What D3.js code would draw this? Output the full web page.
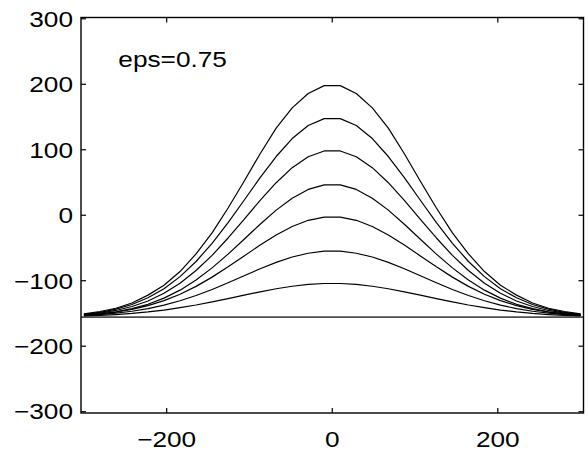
<!DOCTYPE html>
<html>
<head>
<meta charset="utf-8">
<script src="https://cdn.jsdelivr.net/npm/d3@7/dist/d3.min.js"></script>
<style>
  html, body { margin: 0; padding: 0; background: #fff; }
  svg { display: block; }
  text { font-family: "Liberation Sans", Arial, Helvetica, sans-serif; fill: #000; }
</style>
</head>
<body>
<svg id="chart" width="588" height="454"></svg>
<script>
// ---- data ----
const xValues = [-300, -280.65, -261.29, -241.94, -222.58, -203.23, -183.87, -164.52, -145.16, -125.81, -106.45, -87.10, -67.74, -48.39, -29.03, -9.68,
                 9.68, 29.03, 48.39, 67.74, 87.10, 106.45, 125.81, 145.16, 164.52, 183.87, 203.23, 222.58, 241.94, 261.29, 280.65, 300];

const curve1 = [-150.5, -147, -142, -134, -122, -107, -86, -59, -27, 11, 52, 94, 133, 164, 186, 198,
                198, 186, 164, 133, 94, 52, 11, -27, -59, -86, -107, -122, -134, -142, -147, -150.5];
const curve2 = [-151.2, -148.2, -143.4, -136.3, -126.1, -112.1, -93.7, -70.6, -42.8, -11.2, 22.9, 57.4, 89.7, 117.1, 137.1, 147.6,
                147.6, 137.1, 117.1, 89.7, 57.4, 22.9, -11.2, -42.8, -70.6, -93.7, -112.1, -126.1, -136.3, -143.4, -148.2, -151.2];
const curve3 = [-151.9, -149.4, -145.4, -139.4, -130.9, -119.2, -103.8, -84.4, -61.2, -34.7, -6.2, 22.7, 49.7, 72.7, 89.4, 98.2,
                98.2, 89.4, 72.7, 49.7, 22.7, -6.2, -34.7, -61.2, -84.4, -103.8, -119.2, -130.9, -139.4, -145.4, -149.4, -151.9];
const curve4 = [-152.7, -150.6, -147.5, -142.7, -136.0, -126.6, -114.4, -98.9, -80.4, -59.4, -36.7, -13.7, 7.8, 26.1, 39.4, 46.4,
                46.4, 39.4, 26.1, 7.8, -13.7, -36.7, -59.4, -80.4, -98.9, -114.4, -126.6, -136.0, -142.7, -147.5, -150.6, -152.7];
const curve5 = [-152.6, -150.7, -147.8, -143.7, -138.0, -130.3, -120.6, -108.6, -94.5, -78.8, -62.1, -45.5, -30.1, -17.1, -7.7, -2.8,
                -2.8, -7.7, -17.1, -30.1, -45.5, -62.1, -78.8, -94.5, -108.6, -120.6, -130.3, -138.0, -143.7, -147.8, -150.7, -152.6];
const curve6 = [-153.1, -151.7, -149.6, -146.6, -142.5, -137.3, -130.6, -122.6, -113.3, -103.0, -92.3, -81.7, -72.0, -63.8, -58.0, -54.9,
                -54.9, -58.0, -63.8, -72.0, -81.7, -92.3, -103.0, -113.3, -122.6, -130.6, -137.3, -142.5, -146.6, -149.6, -151.7, -153.1];
const curve7 = [-153.9, -153.0, -151.7, -150.0, -147.7, -144.8, -141.2, -137.1, -132.3, -127.2, -122.0, -116.9, -112.2, -108.4, -105.6, -104.2,
                -104.2, -105.6, -108.4, -112.2, -116.9, -122.0, -127.2, -132.3, -137.1, -141.2, -144.8, -147.7, -150.0, -151.7, -153.0, -153.9];
const baselineValue = -155.6;
const baselineX = [-303.5, 303.5];

const curves = [curve1, curve2, curve3, curve4, curve5, curve6, curve7];
const xTicks = [-200, 0, 200];
const yTicks = [-300, -200, -100, 0, 100, 200, 300];
const annotation = "eps=0.75";

// ---- layout ----
const svg = d3.select("#chart");
const mLeft = 81, mRight = 583.5, mTop = 17.5, mBottom = 413;
const x = d3.scaleLinear().domain([-303.5, 303.5]).range([mLeft, mRight]);
const y = d3.scaleLinear().domain([-302, 302]).range([mBottom, mTop]);
const FS = 21.5, SX = 1.22;

const line = d3.line().x((d, i) => x(xValues[i])).y(d => y(d));

// baseline
svg.append("line")
  .attr("x1", x(baselineX[0])).attr("x2", x(baselineX[1]))
  .attr("y1", y(baselineValue)).attr("y2", y(baselineValue))
  .attr("stroke", "#4d4d4d").attr("stroke-width", 1.6);

// curves
svg.append("g").selectAll("path").data(curves).join("path")
  .attr("d", d => line(d))
  .attr("fill", "none").attr("stroke", "#000").attr("stroke-width", 1.2)
  .attr("stroke-linejoin", "round");

// box
svg.append("rect")
  .attr("x", mLeft).attr("y", mTop).attr("width", mRight - mLeft).attr("height", mBottom - mTop)
  .attr("fill", "none").attr("stroke", "#000").attr("stroke-width", 1.4);

// ticks (inside, all four sides)
const tl = 5;
const tg = svg.append("g").attr("stroke", "#000").attr("stroke-width", 1.2);
xTicks.forEach(t => {
  tg.append("line").attr("x1", x(t)).attr("x2", x(t)).attr("y1", mBottom).attr("y2", mBottom - tl);
  tg.append("line").attr("x1", x(t)).attr("x2", x(t)).attr("y1", mTop).attr("y2", mTop + tl);
});
yTicks.forEach(t => {
  tg.append("line").attr("x1", mLeft).attr("x2", mLeft + tl).attr("y1", y(t)).attr("y2", y(t));
  tg.append("line").attr("x1", mRight).attr("x2", mRight - tl).attr("y1", y(t)).attr("y2", y(t));
});

function fmt(v) { return v < 0 ? "\u2212" + Math.abs(v) : String(v); }

// y labels
yTicks.forEach(t => {
  svg.append("g").attr("transform", `translate(73,${y(t) + 7.8}) scale(${SX},1)`)
    .append("text").attr("text-anchor", "end").attr("font-size", FS).text(fmt(t));
});
// x labels
xTicks.forEach(t => {
  svg.append("g").attr("transform", `translate(${x(t)},446.5) scale(${SX},1)`)
    .append("text").attr("text-anchor", "middle").attr("font-size", FS).text(fmt(t));
});
// annotation
svg.append("g").attr("transform", `translate(118.3,66.7) scale(${SX},1)`)
  .append("text").attr("text-anchor", "start").attr("font-size", FS).text(annotation);
</script>
</body>
</html>
